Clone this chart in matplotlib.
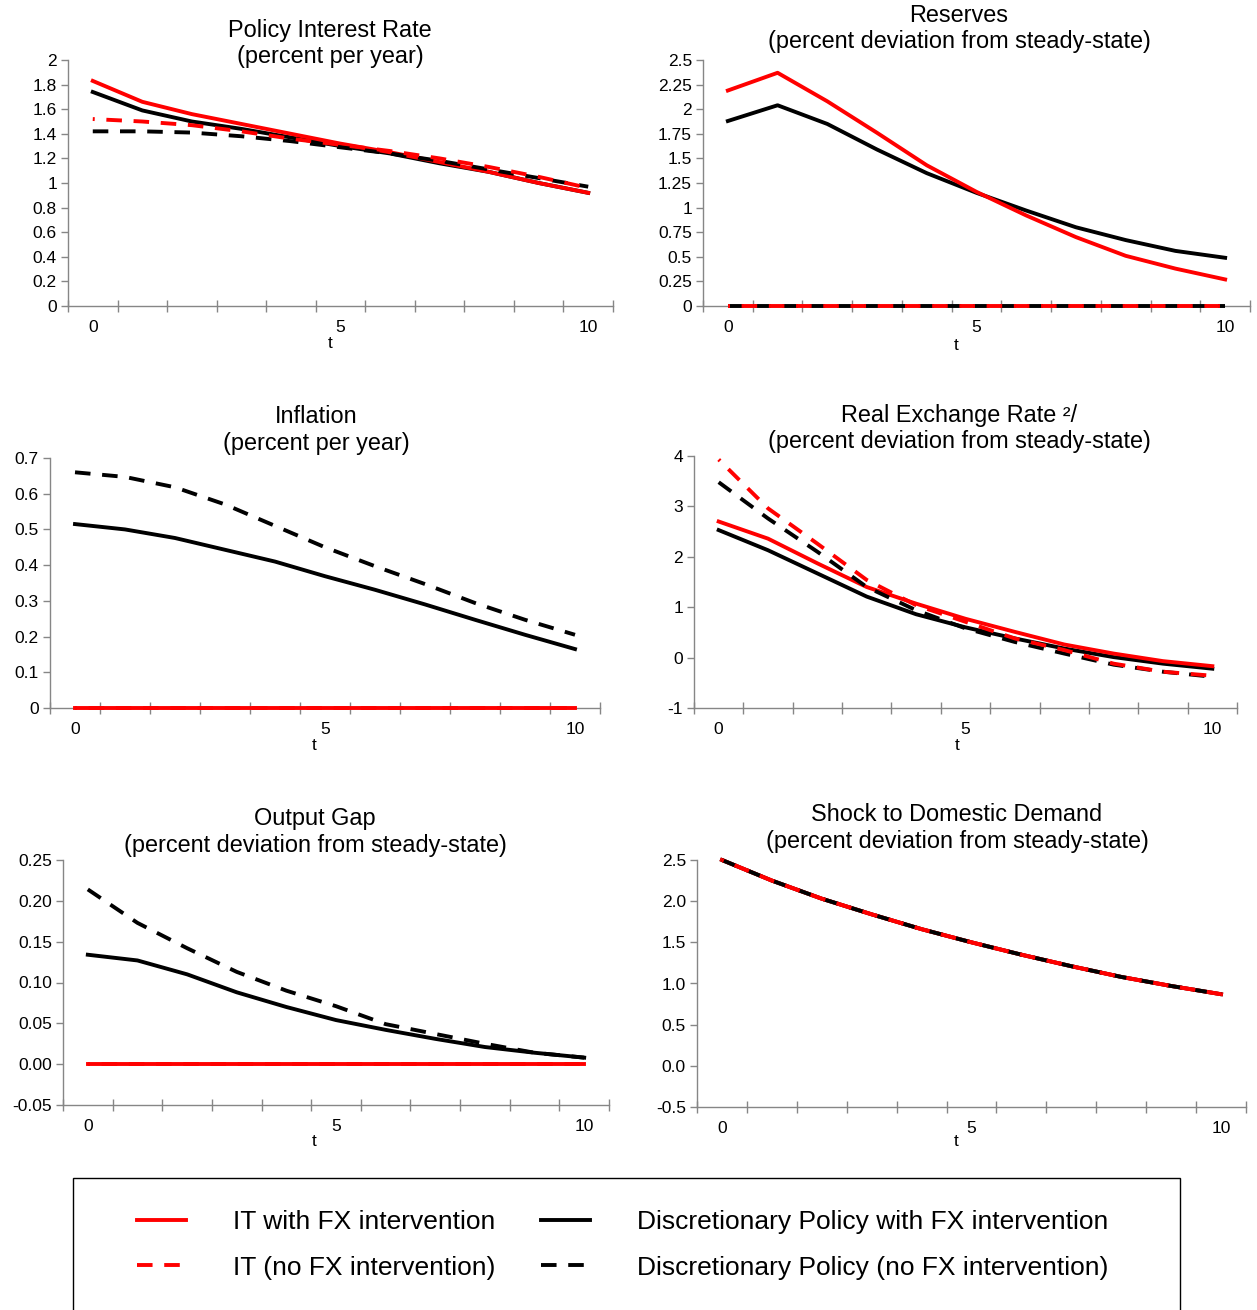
import matplotlib
matplotlib.use("Agg")
import matplotlib.pyplot as plt
from matplotlib.patches import Rectangle

plt.rcParams['font.family'] = ['Liberation Sans', 'DejaVu Sans']

t = list(range(11))

# policy interest rate (percent per year)
rate_it_fx = [1.83, 1.66, 1.56, 1.48, 1.40, 1.32, 1.25, 1.17, 1.09, 1.00, 0.92]
rate_it_nofx = [1.52, 1.50, 1.47, 1.42, 1.36, 1.31, 1.26, 1.20, 1.13, 1.05, 0.96]
rate_disc_fx = [1.74, 1.59, 1.50, 1.44, 1.37, 1.30, 1.24, 1.16, 1.09, 1.00, 0.92]
rate_disc_nofx = [1.42, 1.42, 1.41, 1.38, 1.34, 1.29, 1.24, 1.18, 1.11, 1.04, 0.97]

# reserves
res_it_fx = [2.19, 2.37, 2.08, 1.76, 1.43, 1.16, 0.92, 0.70, 0.51, 0.38, 0.27]
res_it_nofx = [0.0] * 11
res_disc_fx = [1.88, 2.04, 1.85, 1.59, 1.35, 1.15, 0.97, 0.80, 0.67, 0.56, 0.49]
res_disc_nofx = [0.0] * 11

# inflation
inf_it_fx = [0.0] * 11
inf_it_nofx = [0.0] * 11
inf_disc_fx = [0.515, 0.50, 0.476, 0.443, 0.41, 0.369, 0.331, 0.29, 0.247, 0.205, 0.165]
inf_disc_nofx = [0.66, 0.647, 0.618, 0.57, 0.51, 0.45, 0.397, 0.347, 0.294, 0.247, 0.205]

# real exchange rate
rer_it_fx = [2.70, 2.36, 1.87, 1.40, 1.07, 0.77, 0.51, 0.26, 0.08, -0.07, -0.17]
rer_it_nofx = [3.93, 2.96, 2.26, 1.54, 1.04, 0.71, 0.38, 0.15, -0.12, -0.28, -0.36]
rer_disc_fx = [2.53, 2.13, 1.67, 1.21, 0.86, 0.60, 0.38, 0.18, 0.01, -0.12, -0.22]
rer_disc_nofx = [3.48, 2.76, 2.10, 1.40, 0.94, 0.58, 0.31, 0.08, -0.14, -0.28, -0.38]

# output gap
gap_it_fx = [0.0] * 11
gap_it_nofx = [0.0] * 11
gap_disc_fx = [0.134, 0.127, 0.110, 0.088, 0.070, 0.054, 0.042, 0.031, 0.021, 0.014, 0.008]
gap_disc_nofx = [0.214, 0.173, 0.142, 0.113, 0.090, 0.071, 0.049, 0.037, 0.025, 0.014, 0.008]

# shock to domestic demand (same in all four cases)
shock = [2.50, 2.25, 2.03, 1.84, 1.66, 1.50, 1.35, 1.21, 1.08, 0.97, 0.87]

labels = ["IT with FX intervention", "IT (no FX intervention)",
          "Discretionary Policy with FX intervention",
          "Discretionary Policy (no FX intervention)"]

panels = [
    dict(title="Policy Interest Rate", sub="(percent per year)",
         series=[rate_it_fx, rate_it_nofx, rate_disc_fx, rate_disc_nofx],
         yticks=[0, 0.2, 0.4, 0.6, 0.8, 1, 1.2, 1.4, 1.6, 1.8, 2],
         ylabels=["0", "0.2", "0.4", "0.6", "0.8", "1", "1.2", "1.4", "1.6", "1.8", "2"],
         box=(68, 613, 60, 306), tx=330, ty=(37, 63), xl=(330, 343)),
    dict(title="Reserves", sub="(percent deviation from steady-state)",
         series=[res_it_fx, res_it_nofx, res_disc_fx, res_disc_nofx],
         yticks=[0, 0.25, 0.5, 0.75, 1, 1.25, 1.5, 1.75, 2, 2.25, 2.5],
         ylabels=["0", "0.25", "0.5", "0.75", "1", "1.25", "1.5", "1.75", "2", "2.25", "2.5"],
         box=(703, 1250, 60, 306), tx=959, ty=(22, 48), xl=(956, 345)),
    dict(title="Inflation", sub="(percent per year)",
         series=[inf_it_fx, inf_it_nofx, inf_disc_fx, inf_disc_nofx],
         yticks=[0, 0.1, 0.2, 0.3, 0.4, 0.5, 0.6, 0.7],
         ylabels=["0", "0.1", "0.2", "0.3", "0.4", "0.5", "0.6", "0.7"],
         box=(50, 600, 458, 708), tx=316, ty=(423, 450), xl=(314, 745)),
    dict(title="Real Exchange Rate \u00b2/", sub="(percent deviation from steady-state)",
         series=[rer_it_fx, rer_it_nofx, rer_disc_fx, rer_disc_nofx],
         yticks=[-1, 0, 1, 2, 3, 4],
         ylabels=["-1", "0", "1", "2", "3", "4"],
         box=(694, 1237, 456, 708), tx=959, ty=(422, 448), xl=(957, 746)),
    dict(title="Output Gap", sub="(percent deviation from steady-state)",
         series=[gap_it_fx, gap_it_nofx, gap_disc_fx, gap_disc_nofx],
         yticks=[-0.05, 0, 0.05, 0.10, 0.15, 0.20, 0.25],
         ylabels=["-0.05", "0.00", "0.05", "0.10", "0.15", "0.20", "0.25"],
         box=(63, 609, 860, 1105), tx=315, ty=(825, 852), xl=(314, 1142)),
    dict(title="Shock to Domestic Demand", sub="(percent deviation from steady-state)",
         series=[shock, shock, shock, shock],
         yticks=[-0.5, 0, 0.5, 1.0, 1.5, 2.0, 2.5],
         ylabels=["-0.5", "0.0", "0.5", "1.0", "1.5", "2.0", "2.5"],
         box=(697, 1246, 860, 1107), tx=957, ty=(821, 848), xl=(956, 1142)),
]

W, H = 1257, 1310
fig = plt.figure(figsize=(W / 100, H / 100), dpi=100)

grey = '#868686'
lw = 2.8
dash = (4, 3)

handles = None
for p in panels:
    x0, x1, y0, y1 = p['box']
    ax = fig.add_axes([x0 / W, (H - y1) / H, (x1 - x0) / W, (y1 - y0) / H])
    it_fx, it_nofx, d_fx, d_nofx = p['series']
    # drawing order matters where lines overlap
    l3, = ax.plot(t, d_fx, color='black', lw=lw, zorder=2, clip_on=False)
    l1, = ax.plot(t, it_fx, color='red', lw=lw, zorder=3, clip_on=False)
    l4, = ax.plot(t, d_nofx, color='black', lw=lw, linestyle=(0, dash),
                  zorder=4, clip_on=False)
    ax.plot(t, it_nofx, color='red', lw=lw, linestyle=(3.5, dash), zorder=5,
            clip_on=False)
    if handles is None:
        l2 = plt.Line2D([], [], color='red', lw=lw, linestyle=(0, dash))
        handles = [l1, l2, l3, l4]

    ax.set_xlim(-0.5, 10.5)
    ax.set_ylim(p['yticks'][0], p['yticks'][-1])
    ax.set_yticks(p['yticks'])
    ax.set_yticklabels(p['ylabels'])
    ax.set_xticks([i - 0.5 for i in range(12)])
    ax.set_xticklabels([])
    ax.set_xticks([0, 5, 10], minor=True)
    ax.set_xticklabels(["0", "5", "10"], minor=True)
    ax.tick_params(axis='x', which='major', direction='inout', length=8,
                   width=1, color=grey)
    ax.tick_params(axis='x', which='minor', length=0, pad=10, labelsize=12.5)
    ax.tick_params(axis='y', direction='out', length=5, width=1, color=grey,
                   labelsize=12.5, pad=3)
    for s in ['top', 'right']:
        ax.spines[s].set_visible(False)
    for s in ['left', 'bottom']:
        ax.spines[s].set_color(grey)
        ax.spines[s].set_linewidth(1)
        ax.spines[s].set_zorder(1)

    # titles and axis label, placed by pixel position
    fig.text(p['tx'] / W, (H - p['ty'][0]) / H, p['title'], ha='center',
             va='baseline', fontsize=16.9)
    fig.text(p['tx'] / W, (H - p['ty'][1]) / H, p['sub'], ha='center',
             va='baseline', fontsize=16.9)
    fig.text(p['xl'][0] / W, (H - p['xl'][1]) / H, "t", ha='center',
             va='center', fontsize=12.5)

# legend box, its bottom edge runs off the image
fig.patches.append(Rectangle((73 / W, -10 / H), (1180 - 73) / W,
                             (H - 1178 + 10) / H,
                             transform=fig.transFigure, fill=False,
                             edgecolor='black', lw=1))

fig.legend(handles, labels, ncol=2, loc='center left',
           bbox_to_anchor=(137 / W, (H - 1245) / H), frameon=False,
           fontsize=19, handlelength=1.86, handletextpad=1.78,
           columnspacing=1.73, labelspacing=0.8, borderpad=0, borderaxespad=0)

fig.savefig('out.png', dpi=100)
